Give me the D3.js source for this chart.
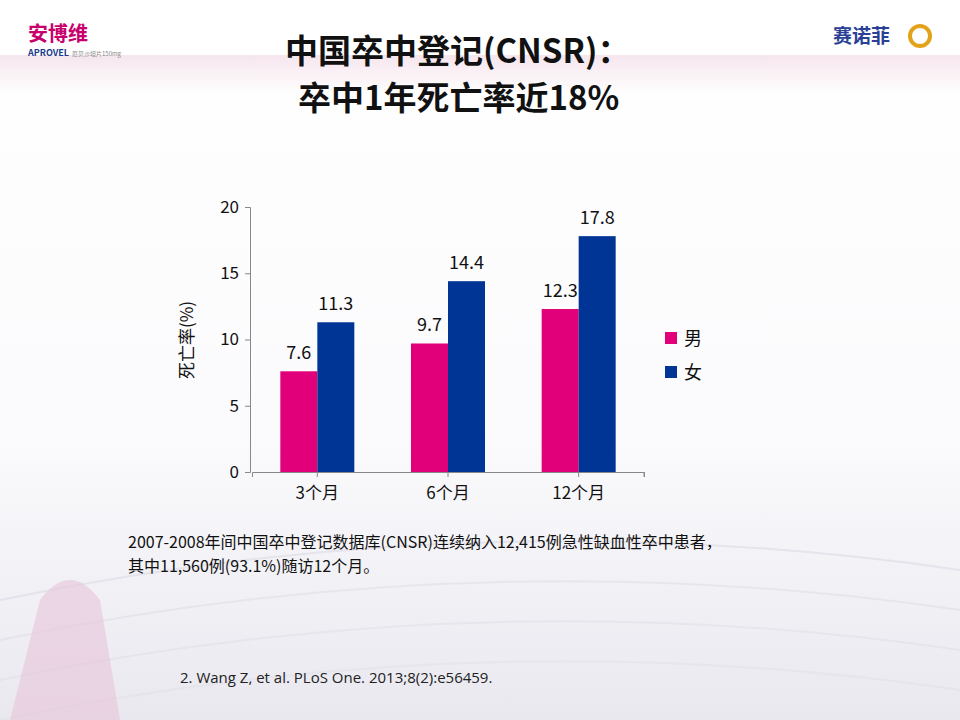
<!DOCTYPE html>
<html><head><meta charset="utf-8">
<script src="https://cdn.jsdelivr.net/npm/d3@7"></script>
<style>body{margin:0}svg{display:block}</style></head>
<body><svg id="c" width="960" height="720"></svg>
<script>
const categories=["3个月","6个月","12个月"];
const seriesNames=["男","女"];
const male=[7.6,9.7,12.3];
const female=[11.3,14.4,17.8];
const yTicks=[0,5,10,15,20];
const colors=["#e2007a","#003595"];
const font="'Noto Sans CJK SC','Open Sans',sans-serif";
const svg=d3.select("#c");
const defs=svg.append("defs");
const g1=defs.append("linearGradient").attr("id","bg").attr("x1",0).attr("y1",0).attr("x2",0).attr("y2",1);
g1.append("stop").attr("offset","0").attr("stop-color","#ffffff");
g1.append("stop").attr("offset","0.6").attr("stop-color","#fbfbfd");
g1.append("stop").attr("offset","1").attr("stop-color","#e9e8ef");
svg.append("rect").attr("width",960).attr("height",720).attr("fill","url(#bg)");
const g2=defs.append("linearGradient").attr("id","band").attr("x1",0).attr("y1",0).attr("x2",0).attr("y2",1);
g2.append("stop").attr("offset","0").attr("stop-color","#f2dbe6");
g2.append("stop").attr("offset","1").attr("stop-color","#ffffff");
svg.append("rect").attr("y",55).attr("width",960).attr("height",40).attr("fill","url(#band)").attr("opacity",0.7);
[[560,0.5],[600,0.4],[640,0.35],[680,0.3]].forEach(([y,o])=>{
 svg.append("path").attr("d",`M0 ${y+40} Q480 ${y-60} 960 ${y+10}`).attr("stroke","#d8d6e2").attr("stroke-width",2).attr("fill","none").attr("opacity",o);});
svg.append("path").attr("d","M10 720 L40 600 Q70 560 100 600 L120 720 Z").attr("fill","#e8c4da").attr("opacity",0.6);
// logos
svg.append("text").attr("x",28).attr("y",41).attr("font-family",font).attr("font-weight","bold").attr("font-size",20).attr("fill","#c8006e").text("安博维");
svg.append("text").attr("x",28).attr("y",56).attr("font-family",font).attr("font-weight","bold").attr("font-size",9).attr("fill","#1a3a8a").text("APROVEL");
svg.append("text").attr("x",72).attr("y",56).attr("font-family",font).attr("font-size",6).attr("fill","#888").text("厄贝沙坦片150mg");
svg.append("text").attr("x",833).attr("y",43).attr("font-family",font).attr("font-weight","bold").attr("font-size",19).attr("fill","#2a3f96").text("赛诺菲");
svg.append("circle").attr("cx",920).attr("cy",36).attr("r",10).attr("fill","none").attr("stroke","#e3a21a").attr("stroke-width",4);
// title
const t=svg.append("text").attr("font-family",font).attr("font-weight","bold").attr("font-size",33).attr("fill","#111");
t.append("tspan").attr("x",285).attr("y",63).text("中国卒中登记(CNSR)：");
t.append("tspan").attr("x",298).attr("y",110).text("卒中1年死亡率近18%");
// chart
const x=d3.scaleBand().domain(categories).range([252,644]);
const y=d3.scaleLinear().domain([0,20]).range([472,207]);
const bw=37;
const ax=svg.append("g").attr("transform","translate(250,0)").call(d3.axisLeft(y).tickValues(yTicks).tickSize(5).tickPadding(6));
const bx=svg.append("g").attr("transform","translate(0,472)").call(d3.axisBottom(x).tickSize(5).tickPadding(10));
[ax,bx].forEach(a=>{a.selectAll("path,line").attr("stroke","#888");a.selectAll("text").attr("font-family",font).attr("font-size",17).attr("fill","#111");});
bx.append("line").attr("x1",644).attr("x2",644).attr("y1",0).attr("y2",5).attr("stroke","#888");
[male,female].forEach((vals,si)=>{
 categories.forEach((c,i)=>{
  const cx=x(c)+x.bandwidth()/2+(si-1)*bw;
  svg.append("rect").attr("x",cx).attr("width",bw).attr("y",y(vals[i])).attr("height",472-y(vals[i])).attr("fill",colors[si]);
  svg.append("text").attr("x",cx+bw/2).attr("y",y(vals[i])-12).attr("text-anchor","middle").attr("font-family",font).attr("font-size",18).attr("fill","#111").text(vals[i].toFixed(1));
 });
});
svg.append("text").attr("transform","translate(193,340) rotate(-90)").attr("text-anchor","middle").attr("font-family",font).attr("font-size",17).attr("fill","#111").text("死亡率(%)");
seriesNames.forEach((n,i)=>{
 svg.append("rect").attr("x",665).attr("y",332+i*34).attr("width",12).attr("height",12).attr("fill",colors[i]);
 svg.append("text").attr("x",684).attr("y",345+i*34).attr("font-family",font).attr("font-size",18).attr("fill","#111").text(n);
});
const n=svg.append("text").attr("font-family",font).attr("font-size",16).attr("fill","#111");
n.append("tspan").attr("x",128).attr("y",548).text("2007-2008年间中国卒中登记数据库(CNSR)连续纳入12,415例急性缺血性卒中患者，");
n.append("tspan").attr("x",128).attr("y",572).text("其中11,560例(93.1%)随访12个月。");
svg.append("text").attr("x",180).attr("y",683).attr("font-family","'Open Sans',sans-serif").attr("font-size",15).attr("fill","#222").text("2. Wang Z, et al. PLoS One. 2013;8(2):e56459.");
</script></body></html>
